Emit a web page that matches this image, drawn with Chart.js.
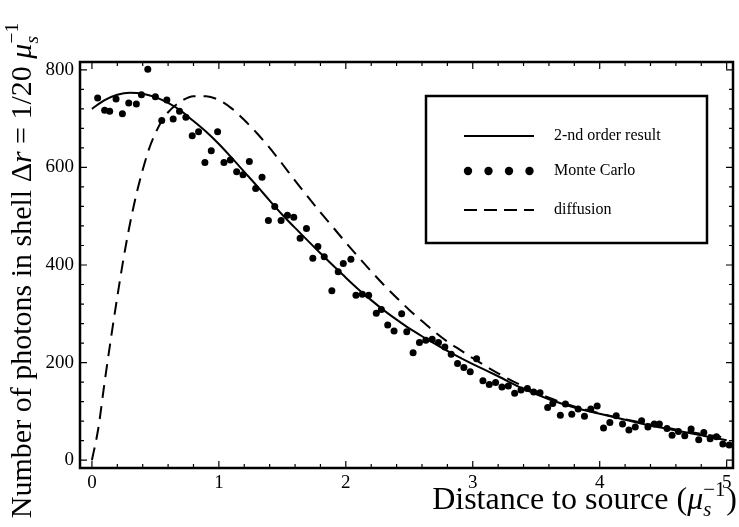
<!DOCTYPE html>
<html>
<head>
<meta charset="utf-8">
<script src="https://cdn.jsdelivr.net/npm/chart.js@4.4.1/dist/chart.umd.min.js"></script>
<style>
  html, body { margin: 0; padding: 0; background: #fff; }
</style>
</head>
<body>
<canvas id="c" width="739" height="527"></canvas>
<script>
// 2-nd order result (solid)
const secondX = [0, 0.1, 0.2, 0.3, 0.4, 0.5, 0.6, 0.7, 0.8, 0.9, 1.0, 1.1, 1.2, 1.3, 1.4, 1.5, 1.6, 1.7, 1.8, 1.9,
  2.0, 2.1, 2.2, 2.3, 2.4, 2.5, 2.6, 2.7, 2.8, 2.9, 3.0, 3.2, 3.4, 3.6, 3.8, 4.0, 4.2, 4.4, 4.6, 4.8, 5.0];
const secondY = [720, 738, 749, 753, 751, 744, 732, 716, 695, 673, 648, 620, 591, 562, 532, 503, 476, 450, 424, 399,
  374, 350, 328, 307, 288, 270, 254, 239, 224, 210, 197, 172, 146, 125, 108, 95, 83, 71, 61, 51, 41];

// diffusion (dashed)
const diffX = [0, 0.05, 0.1, 0.15, 0.2, 0.25, 0.3, 0.35, 0.4, 0.45, 0.5, 0.55, 0.6, 0.7, 0.8, 0.9, 1.0, 1.1, 1.2, 1.3,
  1.4, 1.5, 1.6, 1.7, 1.8, 1.9, 2.0, 2.1, 2.2, 2.3, 2.4, 2.5, 2.6, 2.7, 2.8, 2.9, 3.0, 3.2, 3.4, 3.6, 3.8, 4.0,
  4.2, 4.4, 4.6, 4.8, 5.0];
const diffY = [0, 65, 160, 250, 335, 415, 485, 545, 595, 638, 670, 695, 713, 735, 746, 746, 738, 721, 697, 670,
  640, 607, 573, 540, 508, 477, 446, 416, 387, 359, 333, 308, 285, 263, 243, 226, 209, 178, 151, 128, 110, 96,
  84, 73, 63, 54, 46];

// Monte Carlo (dots)
const mcX = [0.045, 0.10, 0.14, 0.19, 0.24, 0.29, 0.35, 0.39, 0.44, 0.50, 0.55, 0.59, 0.64, 0.69, 0.74, 0.79, 0.84,
  0.89, 0.94, 0.99, 1.04, 1.09, 1.14, 1.19, 1.24, 1.29, 1.34, 1.39, 1.44, 1.49, 1.54, 1.59, 1.64, 1.69, 1.74, 1.78,
  1.83, 1.89, 1.94, 1.98, 2.04, 2.08, 2.13, 2.18, 2.24, 2.28, 2.33, 2.38, 2.44, 2.48, 2.53, 2.58, 2.63, 2.68, 2.73,
  2.78, 2.83, 2.88, 2.93, 2.98, 3.03, 3.08, 3.13, 3.18, 3.23, 3.28, 3.33, 3.38, 3.43, 3.48, 3.53, 3.59, 3.63, 3.69,
  3.73, 3.78, 3.83, 3.88, 3.93, 3.98, 4.03, 4.08, 4.13, 4.18, 4.23, 4.28, 4.33, 4.38, 4.43, 4.47, 4.53, 4.57, 4.62,
  4.67, 4.72, 4.78, 4.82, 4.87, 4.92, 4.97, 5.02];
const mcY = [742, 717, 715, 740, 710, 732, 730, 749, 801, 745, 696, 738, 699, 715, 703, 665, 673,
  610, 634, 673, 610, 615, 591, 585, 612, 557, 580, 491, 520, 491, 502, 498, 455, 475, 414, 438,
  417, 347, 386, 403, 412, 338, 340, 338, 301, 309, 277, 265, 300, 263, 220, 241, 246, 248, 241,
  232, 217, 198, 190, 181, 208, 163, 155, 159, 150, 152, 137, 144, 147, 140, 138, 108, 116, 92,
  115, 94, 105, 90, 105, 111, 66, 77, 91, 74, 62, 68, 81, 68, 74, 74, 65, 51, 59,
  50, 64, 42, 57, 44, 48, 33, 31];

const xTicks = [0, 1, 2, 3, 4, 5];
const yTicks = [0, 200, 400, 600, 800];
const legendLabels = ["2-nd order result", "Monte Carlo", "diffusion"];

const SERIF = '"Liberation Serif", "DejaVu Serif", serif';
const pts = (xs, ys) => xs.map((x, i) => ({ x: x, y: ys[i] }));

function fnt(size, it) {
  return (it ? "italic " : "") + size + "px " + SERIF;
}

// rich text: plain runs, italic runs, and a stacked sub/superscript
function richWidth(ctx, segs, size) {
  let w = 0;
  segs.forEach((s) => {
    if (s.t !== undefined) {
      ctx.font = fnt(size, s.it);
      w += ctx.measureText(s.t).width;
    } else {
      ctx.font = fnt(size * 0.65, true);
      const a = ctx.measureText(s.sub).width;
      ctx.font = fnt(size * 0.65, false);
      const b = ctx.measureText(s.sup).width;
      w += Math.max(a, b) + 1;
    }
  });
  return w;
}

function richDraw(ctx, segs, size, x, y) {
  ctx.textBaseline = "alphabetic";
  ctx.textAlign = "left";
  segs.forEach((s) => {
    if (s.t !== undefined) {
      ctx.font = fnt(size, s.it);
      ctx.fillText(s.t, x, y);
      x += ctx.measureText(s.t).width;
    } else {
      ctx.font = fnt(size * 0.65, true);
      ctx.fillText(s.sub, x, y + size * 0.22);
      const a = ctx.measureText(s.sub).width;
      ctx.font = fnt(size * 0.65, false);
      ctx.fillText(s.sup, x, y - size * 0.42);
      const b = ctx.measureText(s.sup).width;
      x += Math.max(a, b) + 1;
    }
  });
}

const xTitle = [{ t: "Distance to source (" }, { t: "μ", it: true }, { sub: "s", sup: "−1" }, { t: ")" }];
const yTitle = [{ t: "Number of photons in shell Δ" }, { t: "r", it: true }, { t: " = 1/20 " },
  { t: "μ", it: true }, { sub: "s", sup: "−1" }];

const framePlugin = {
  id: "frame",
  afterDraw(chart) {
    const { ctx, chartArea: a, scales } = chart;
    const xs = scales.x, ys = scales.y;
    ctx.save();
    ctx.strokeStyle = "#000";
    ctx.lineWidth = 2.5;
    ctx.strokeRect(a.left, a.top, a.right - a.left, a.bottom - a.top);

    // inward ticks on all four sides
    ctx.lineWidth = 1.2;
    ctx.beginPath();
    for (let v = 0; v <= 5.0001; v += 0.2) {
      const px = xs.getPixelForValue(v);
      const major = Math.abs(v - Math.round(v)) < 1e-6;
      const len = major ? 7 : 4;
      ctx.moveTo(px, a.bottom); ctx.lineTo(px, a.bottom - len);
      ctx.moveTo(px, a.top); ctx.lineTo(px, a.top + len);
    }
    for (let v = 0; v <= 800; v += 40) {
      const py = ys.getPixelForValue(v);
      const len = v % 200 === 0 ? 7 : 4;
      ctx.moveTo(a.left, py); ctx.lineTo(a.left + len, py);
      ctx.moveTo(a.right, py); ctx.lineTo(a.right - len, py);
    }
    ctx.stroke();

    // axis titles
    ctx.fillStyle = "#000";
    const wx = richWidth(ctx, xTitle, 32);
    richDraw(ctx, xTitle, 32, 737 - wx, 509);

    const wy = richWidth(ctx, yTitle, 30);
    ctx.translate(31, 270);
    ctx.rotate(-Math.PI / 2);
    richDraw(ctx, yTitle, 30, -wy / 2, 0);
    ctx.restore();

    // legend box
    ctx.save();
    const L = 426, T = 96, R = 707, B = 243;
    ctx.fillStyle = "#fff";
    ctx.fillRect(L, T, R - L, B - T);
    ctx.strokeStyle = "#000";
    ctx.lineWidth = 2.5;
    ctx.strokeRect(L, T, R - L, B - T);
    const sx0 = L + 38, sx1 = L + 108, tx = L + 128;
    const rows = [136, 171, 210];
    ctx.lineWidth = 2;
    ctx.beginPath();
    ctx.moveTo(sx0, rows[0]); ctx.lineTo(sx1, rows[0]);
    ctx.stroke();
    ctx.fillStyle = "#000";
    for (let i = 0; i < 4; i++) {
      ctx.beginPath();
      ctx.arc(sx0 + 4 + i * 20.5, rows[1], 4.2, 0, Math.PI * 2);
      ctx.fill();
    }
    ctx.setLineDash([13, 7]);
    ctx.beginPath();
    ctx.moveTo(sx0, rows[2]); ctx.lineTo(sx1, rows[2]);
    ctx.stroke();
    ctx.setLineDash([]);
    ctx.font = fnt(16, false);
    ctx.textBaseline = "middle";
    legendLabels.forEach((s, i) => ctx.fillText(s, tx, rows[i]));
    ctx.restore();
  },
};

const chart = new Chart(document.getElementById("c").getContext("2d"), {
  type: "scatter",
  data: {
    datasets: [
      {
        label: legendLabels[0],
        type: "line",
        data: pts(secondX, secondY),
        borderColor: "#000",
        borderWidth: 2,
        pointRadius: 0,
        cubicInterpolationMode: "monotone",
        fill: false,
      },
      {
        label: legendLabels[1],
        data: pts(mcX, mcY),
        backgroundColor: "#000",
        borderColor: "#000",
        pointRadius: 3.5,
        borderWidth: 0,
      },
      {
        label: legendLabels[2],
        type: "line",
        data: pts(diffX, diffY),
        borderColor: "#000",
        borderWidth: 2,
        borderDash: [13, 8],
        pointRadius: 0,
        cubicInterpolationMode: "monotone",
        fill: false,
      },
    ],
  },
  options: {
    responsive: false,
    animation: false,
    layout: { padding: { left: 0, right: 6, top: 62, bottom: 0 } },
    plugins: { legend: { display: false }, tooltip: { enabled: false } },
    scales: {
      x: {
        type: "linear",
        min: -0.094,
        max: 5.05,
        afterBuildTicks: (s) => { s.ticks = xTicks.map((v) => ({ value: v })); },
        afterFit: (s) => { s.height = 59; },
        grid: { display: false },
        border: { display: false },
        ticks: { color: "#000", font: { family: SERIF, size: 19 }, padding: -4, maxRotation: 0 },
      },
      y: {
        min: -16,
        max: 816,
        afterBuildTicks: (s) => { s.ticks = yTicks.map((v) => ({ value: v })); },
        afterFit: (s) => { s.width = 80; },
        grid: { display: false },
        border: { display: false },
        ticks: { color: "#000", font: { family: SERIF, size: 19 }, padding: -2 },
      },
    },
  },
  plugins: [framePlugin],
});
</script>
</body>
</html>
